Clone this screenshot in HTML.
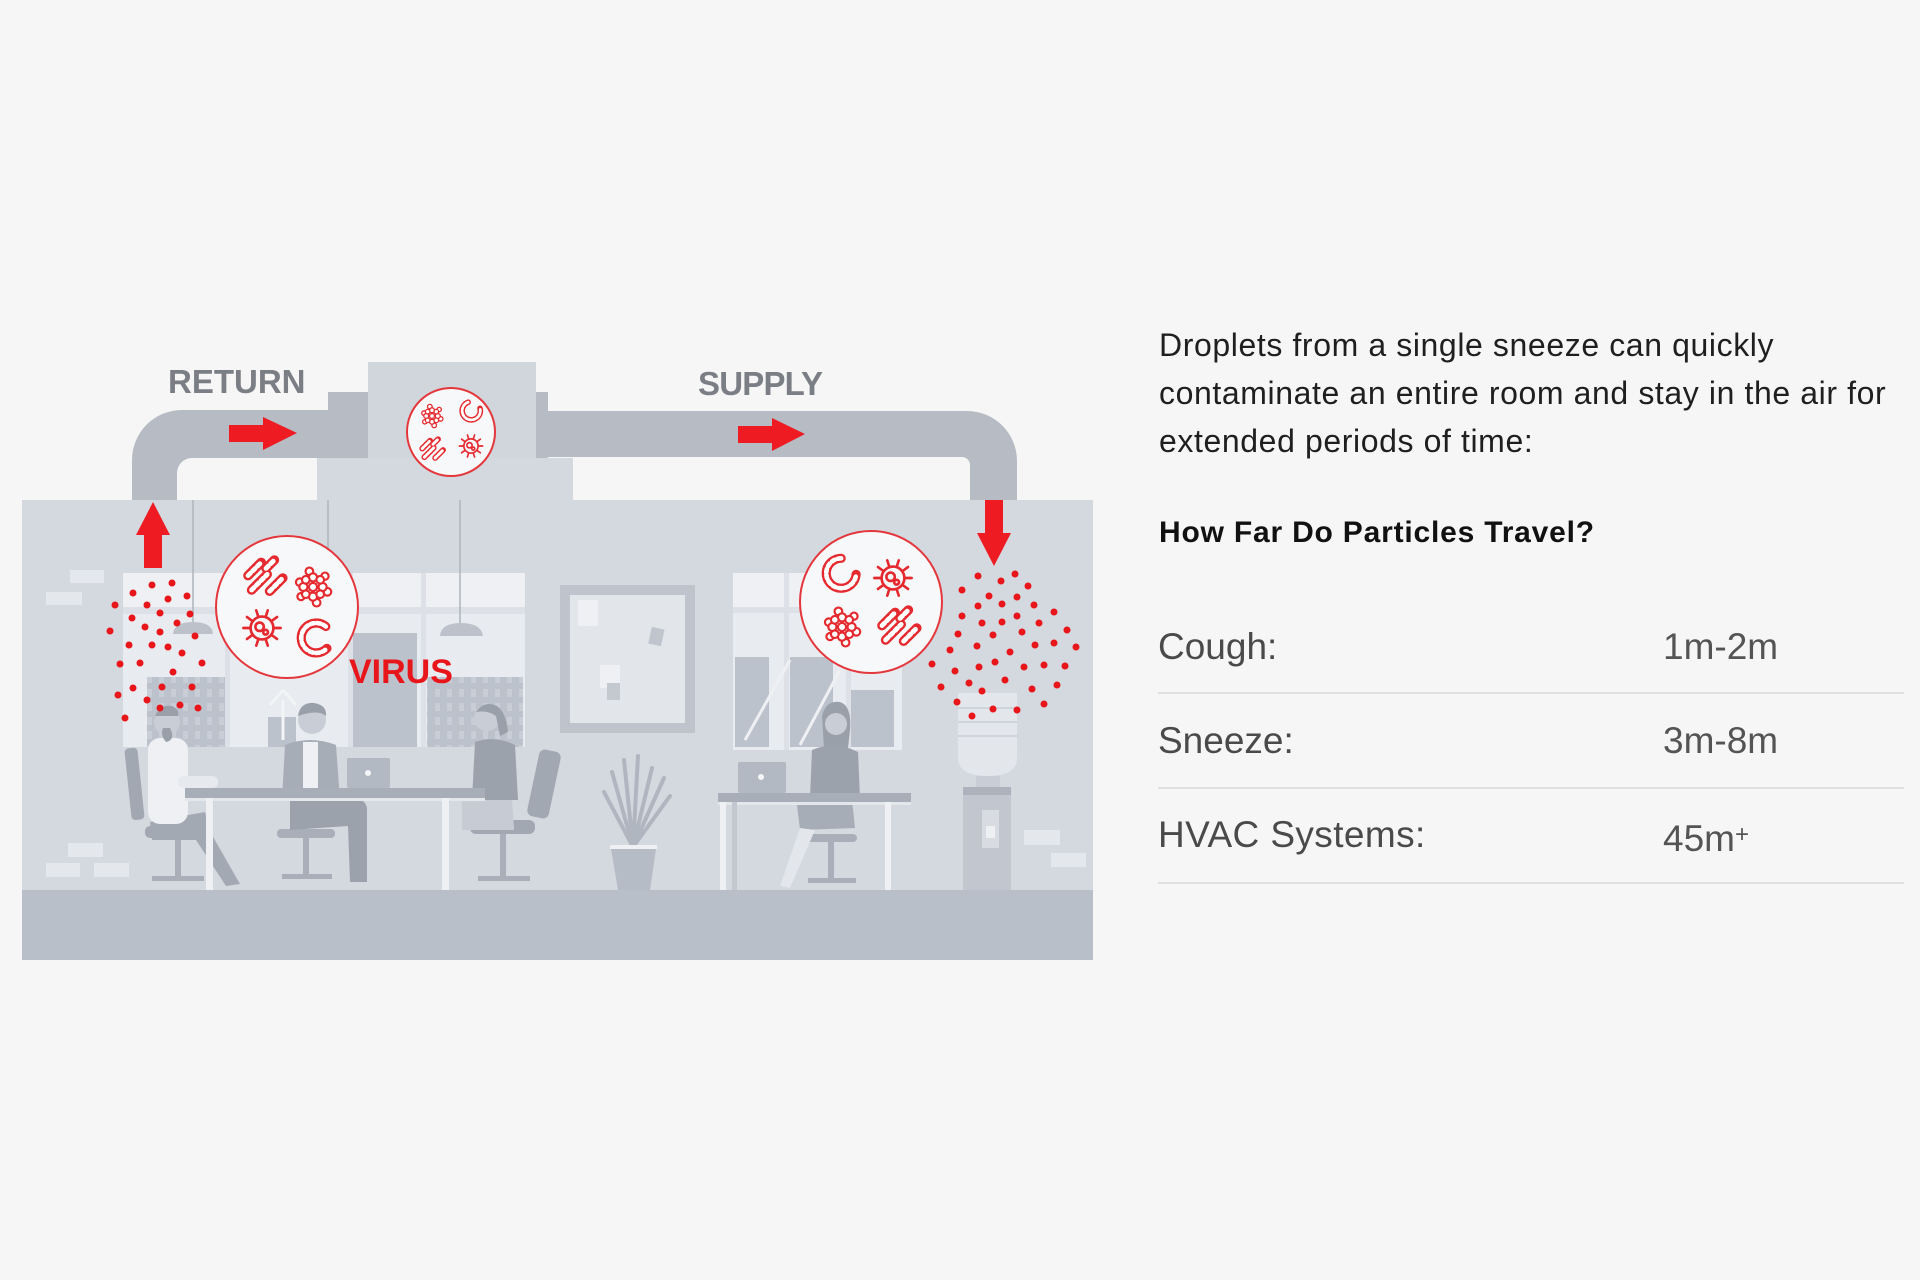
<!DOCTYPE html>
<html>
<head>
<meta charset="utf-8">
<style>
  html,body{margin:0;padding:0;}
  body{width:1920px;height:1280px;background:#f5f6f5;position:relative;overflow:hidden;font-family:"Liberation Sans",sans-serif;}
  .t{position:absolute;white-space:nowrap;}
  .row{font-size:37px;line-height:44px;color:#4a4a4a;}
  .val{font-size:37px;line-height:44px;color:#545454;}
  .ln{position:absolute;left:1158px;width:746px;height:2px;background:#dfe1e0;}
</style>
</head>
<body>
<svg width="1920" height="1280" viewBox="0 0 1920 1280" style="position:absolute;left:0;top:0">
  <defs>
    <g id="spk" fill="none" stroke="#e52a2f" stroke-width="2.2" stroke-linecap="round">
      <circle r="9.5"/>
      <path d="M10,0L15.5,0M8.1,5.9L12.5,9.1M3.1,9.5L4.8,14.7M-3.1,9.5L-4.8,14.7M-8.1,5.9L-12.5,9.1M-10,0L-15.5,0M-8.1,-5.9L-12.5,-9.1M-3.1,-9.5L-4.8,-14.7M3.1,-9.5L4.8,-14.7M8.1,-5.9L12.5,-9.1"/>
      <circle cx="-2" cy="-1" r="3.5"/><circle cx="3" cy="3.5" r="2"/>
    </g>
    <g id="flw" fill="#fff" stroke="#e52a2f" stroke-width="1.8">
      <circle cx="12" cy="4" r="3.2"/><circle cx="-11" cy="-4" r="3.2"/><circle cx="3" cy="13" r="3.2"/><circle cx="-3" cy="-13" r="3.2"/>
      <circle cx="-10" cy="8" r="3"/><circle cx="10" cy="-9" r="3"/>
      <circle cx="8" cy="0" r="3.4"/><circle cx="-8" cy="0" r="3.4"/><circle cx="0" cy="8" r="3.4"/><circle cx="0" cy="-8" r="3.4"/>
      <circle cx="6" cy="6" r="3.2"/><circle cx="-6" cy="-6" r="3.2"/><circle cx="6" cy="-6" r="3.2"/><circle cx="-6" cy="6" r="3.2"/>
      <circle cx="0" cy="0" r="3.4"/>
    </g>
    <g id="rods" fill="none" stroke-linecap="round">
      <path d="M-15,-2 L-4,-13 M-12,10 L1,-3 M3,11 L14,0 M0,-8 L7,-15" stroke="#e52a2f" stroke-width="8"/>
      <path d="M-15,-2 L-4,-13 M-12,10 L1,-3 M3,11 L14,0 M0,-8 L7,-15" stroke="#fff" stroke-width="4" stroke-dasharray="3 2.5"/>
    </g>
    <g id="chn" fill="none" stroke-linecap="round">
      <path d="M12,-10 A13,13 0 1 0 13,9" stroke="#e52a2f" stroke-width="8"/>
      <path d="M12,-10 A13,13 0 1 0 13,9" stroke="#fff" stroke-width="4" stroke-dasharray="3 2.5"/>
    </g>
    <pattern id="bw" width="12" height="14" patternUnits="userSpaceOnUse">
      <rect width="12" height="14" fill="#bcc2cb"/>
      <rect x="3" y="3" width="5" height="8" fill="#c9ced6"/>
    </pattern>
  </defs>

  <!-- ducts -->
  <path d="M132,500 L132,460 A50,50 0 0 1 182,410 L328,410 L328,458 L192,458 A15,15 0 0 0 177,473 L177,500 Z" fill="#b6bbc4"/>
  <rect x="328" y="392" width="40" height="66" fill="#b6bbc4"/>
  <rect x="368" y="362" width="168" height="96" fill="#d1d5dc"/>
  <rect x="317" y="458" width="256" height="42" fill="#d4d8df"/>
  <rect x="536" y="392" width="12" height="66" fill="#b6bbc4"/>
  <path d="M548,411 L967,411 A50,50 0 0 1 1017,461 L1017,500 L970,500 L970,465 A8,8 0 0 0 962,457 L548,457 Z" fill="#b6bbc4"/>

  <!-- labels -->
  <text x="168" y="393" font-family="Liberation Sans, sans-serif" font-weight="bold" font-size="33" fill="#7b7e84">RETURN</text>
  <text x="698" y="395" font-family="Liberation Sans, sans-serif" font-weight="bold" font-size="33" letter-spacing="-0.8" fill="#7b7e84">SUPPLY</text>

  <!-- arrows in ducts -->
  <rect x="229" y="425" width="35" height="17" fill="#ee1c22"/>
  <polygon points="263,417 297,433 263,450" fill="#ee1c22"/>
  <rect x="738" y="426" width="35" height="17" fill="#ee1c22"/>
  <polygon points="772,418 805,434 772,451" fill="#ee1c22"/>

  <!-- room -->
  <rect x="22" y="500" width="1071" height="460" fill="#d4d8df"/>
  <rect x="22" y="890" width="1071" height="70" fill="#b9bfc8"/>

  <!-- bricks -->
  <g fill="#e4e7ec">
    <rect x="70" y="570" width="34" height="13"/>
    <rect x="46" y="592" width="36" height="13"/>
    <rect x="68" y="843" width="35" height="14"/>
    <rect x="46" y="863" width="34" height="14"/>
    <rect x="94" y="863" width="35" height="14"/>
    <rect x="1024" y="830" width="36" height="15"/>
    <rect x="1051" y="853" width="35" height="14"/>
  </g>

  <!-- left window -->
  <rect x="123" y="573" width="402" height="174" fill="#e8ebef"/>
  <rect x="123" y="573" width="402" height="34" fill="#eef0f3"/>
  <rect x="147" y="677" width="80" height="70" fill="url(#bw)"/>
  <rect x="268" y="717" width="28" height="30" fill="#bcc2cb"/>
  <rect x="351" y="633" width="66" height="114" fill="#bcc2cb"/>
  <rect x="427" y="677" width="96" height="70" fill="url(#bw)"/>
  <rect x="123" y="607" width="402" height="7" fill="#dde0e6"/>
  <rect x="225" y="573" width="5" height="174" fill="#dde0e6"/>
  <rect x="348" y="573" width="5" height="174" fill="#dde0e6"/>
  <rect x="421" y="573" width="5" height="174" fill="#dde0e6"/>
  <path d="M283,700 L283,740 M283,690 L270,705 M283,690 L296,705" stroke="#f2f4f6" stroke-width="3" fill="none"/>

  <!-- right window -->
  <rect x="733" y="573" width="169" height="177" fill="#e8ebef"/>
  <rect x="733" y="573" width="169" height="34" fill="#eef0f3"/>
  <rect x="735" y="657" width="34" height="90" fill="#bcc2cb"/>
  <rect x="790" y="657" width="43" height="90" fill="#bcc2cb"/>
  <rect x="851" y="690" width="43" height="57" fill="#bcc2cb"/>
  <rect x="733" y="607" width="169" height="6" fill="#dde0e6"/>
  <rect x="784" y="573" width="5" height="177" fill="#dde0e6"/>
  <rect x="846" y="573" width="5" height="177" fill="#dde0e6"/>
  <path d="M745,740 L790,660 M800,745 L840,670" stroke="#eef0f3" stroke-width="3"/>

  <!-- framed picture -->
  <rect x="560" y="585" width="135" height="148" fill="#bfc4cc"/>
  <rect x="570" y="595" width="115" height="128" fill="#e2e5ea"/>
  <rect x="578" y="600" width="20" height="26" fill="#eef0f3"/>
  <rect x="650" y="628" width="13" height="17" fill="#c0c5cd" transform="rotate(12 656 636)"/>
  <rect x="600" y="665" width="20" height="23" fill="#eef0f3"/>
  <rect x="607" y="683" width="13" height="17" fill="#c4c9d0"/>

  <!-- pendant lamps -->
  <g stroke="#aeb4bd" stroke-width="1.5">
    <line x1="193" y1="500" x2="193" y2="624"/>
    <line x1="328" y1="500" x2="328" y2="560"/>
    <line x1="460" y1="500" x2="460" y2="624"/>
  </g>
  <path d="M173,634 Q174,622 193,622 Q212,622 213,634 Z" fill="#bcc1ca"/>
  <path d="M440,636 Q441,623 461,623 Q481,623 483,636 Z" fill="#bcc1ca"/>

  <!-- left chair + man -->
  <rect x="128" y="748" width="13" height="72" rx="4" fill="#a2a8b2" transform="rotate(-6 134 784)"/>
  <rect x="145" y="826" width="60" height="12" rx="5" fill="#a2a8b2"/>
  <rect x="175" y="838" width="6" height="40" fill="#a9afb8"/>
  <rect x="152" y="876" width="52" height="5" fill="#a9afb8"/>
  <path d="M150,822 L205,812 L212,835 L240,884 L226,886 L196,840 L152,840 Z" fill="#a3a9b3"/>
  <rect x="148" y="738" width="40" height="86" rx="12" fill="#eef0f4"/>
  <rect x="178" y="776" width="40" height="12" rx="5" fill="#e6e9ee"/>
  <circle cx="167" cy="722" r="13" fill="#c9ced6"/>
  <path d="M155,716 Q160,704 172,706 Q180,710 178,716 Z" fill="#9aa0aa"/>
  <path d="M170,728 Q176,740 166,742 Q160,735 163,728 Z" fill="#9aa0aa"/>

  <!-- middle man -->
  <rect x="277" y="829" width="58" height="9" rx="4" fill="#a9afb8"/>
  <rect x="303" y="838" width="6" height="38" fill="#a9afb8"/>
  <rect x="282" y="874" width="50" height="5" fill="#a9afb8"/>
  <path d="M285,745 Q310,735 336,745 L340,800 L282,800 Z" fill="#a7adb7"/>
  <rect x="303" y="742" width="15" height="50" fill="#eef0f3"/>
  <path d="M290,798 L355,798 Q368,800 367,812 L367,882 L350,882 L348,826 L290,830 Z" fill="#9ca2ac"/>
  <circle cx="312" cy="720" r="14" fill="#c9ced6"/>
  <path d="M298,716 Q300,702 314,703 Q327,705 326,716 Q318,709 298,716 Z" fill="#9aa0aa"/>

  <!-- right seated woman at left table -->
  <rect x="533" y="750" width="22" height="68" rx="6" fill="#a2a8b2" transform="rotate(12 544 784)"/>
  <rect x="470" y="820" width="65" height="14" rx="6" fill="#a2a8b2"/>
  <rect x="500" y="834" width="6" height="44" fill="#a9afb8"/>
  <rect x="478" y="876" width="52" height="5" fill="#a9afb8"/>
  <path d="M462,798 L512,798 L514,830 L462,830 Z" fill="#c7ccd4"/>
  <path d="M475,742 Q495,735 515,745 L518,800 L472,800 Z" fill="#9ca2ac"/>
  <circle cx="487" cy="718" r="13" fill="#c9ced6"/>
  <path d="M476,712 Q484,700 497,706 Q506,712 508,732 L500,736 L496,716 Q488,710 476,712 Z" fill="#9aa0aa"/>

  <!-- left table -->
  <rect x="347" y="758" width="43" height="30" rx="2" fill="#b3b9c2"/>
  <circle cx="368" cy="773" r="3" fill="#f4f5f7"/>
  <rect x="185" y="788" width="300" height="10" fill="#a8aeb8"/>
  <rect x="185" y="798" width="300" height="3" fill="#e3e6eb"/>
  <rect x="206" y="798" width="7" height="92" fill="#eef0f3"/>
  <rect x="442" y="798" width="7" height="92" fill="#eef0f3"/>

  <!-- plant -->
  <g stroke="#b0b6bf" stroke-width="4" stroke-linecap="round" fill="none">
    <path d="M633,847 L612,772"/><path d="M633,847 L624,760"/><path d="M633,847 L638,756"/>
    <path d="M633,847 L652,768"/><path d="M633,847 L664,778"/><path d="M633,847 L604,792"/>
    <path d="M633,847 L670,796"/>
  </g>
  <rect x="610" y="845" width="47" height="4" fill="#eef0f3"/>
  <polygon points="611,849 656,849 650,890 618,890" fill="#b6bcc5"/>

  <!-- right woman + desk -->
  <rect x="805" y="834" width="52" height="8" rx="4" fill="#a9afb8"/>
  <rect x="828" y="842" width="6" height="38" fill="#a9afb8"/>
  <rect x="808" y="878" width="48" height="5" fill="#a9afb8"/>
  <path d="M797,805 L852,800 L855,828 L800,830 Z" fill="#a7adb7"/>
  <path d="M800,828 L780,886 L790,888 L815,830 Z" fill="#e3e6eb"/>
  <path d="M812,750 Q835,740 858,752 L860,798 L810,798 Z" fill="#9ca2ac"/>
  <path d="M822,716 Q826,700 840,702 Q852,706 850,730 L848,748 L824,748 Z" fill="#9aa0aa"/>
  <circle cx="836" cy="724" r="11" fill="#c9ced6"/>
  <rect x="738" y="762" width="48" height="31" rx="2" fill="#b3b9c2"/>
  <circle cx="761" cy="777" r="3" fill="#f4f5f7"/>
  <rect x="718" y="793" width="193" height="9" fill="#a8aeb8"/>
  <rect x="718" y="802" width="193" height="3" fill="#e3e6eb"/>
  <rect x="720" y="802" width="6" height="88" fill="#eef0f3"/>
  <rect x="885" y="802" width="6" height="88" fill="#eef0f3"/>
  <rect x="732" y="802" width="5" height="88" fill="#c3c8d0"/>

  <!-- water cooler -->
  <path d="M958,693 L1017,693 L1017,758 Q1017,776 988,776 Q958,776 958,758 Z" fill="#e3e6eb"/>
  <g stroke="#cfd3da" stroke-width="2"><line x1="958" y1="708" x2="1017" y2="708"/><line x1="958" y1="722" x2="1017" y2="722"/><line x1="958" y1="736" x2="1017" y2="736"/></g>
  <rect x="976" y="776" width="24" height="11" fill="#c9ced6"/>
  <rect x="963" y="787" width="48" height="103" fill="#c2c7cf"/>
  <rect x="963" y="787" width="48" height="8" fill="#adb3bc"/>
  <rect x="982" y="810" width="17" height="38" fill="#d8dce2"/>
  <rect x="986" y="826" width="9" height="12" fill="#eef0f3"/>

  <!-- virus circles -->
  <circle cx="287" cy="607" r="71" fill="#f7f8fa" stroke="#e4373c" stroke-width="2"/>
  <use href="#rods" transform="translate(266,578) scale(1.2)"/>
  <use href="#flw" transform="translate(313,587) scale(1.2)"/>
  <use href="#spk" transform="translate(262,628) scale(1.2)"/>
  <use href="#chn" transform="translate(312,638) scale(1.15)"/>

  <circle cx="871" cy="602" r="71" fill="#f7f8fa" stroke="#e4373c" stroke-width="2"/>
  <use href="#chn" transform="translate(838,576) scale(1.15) rotate(-40)"/>
  <use href="#spk" transform="translate(893,578) scale(1.2)"/>
  <use href="#flw" transform="translate(842,627) scale(1.2)"/>
  <use href="#rods" transform="translate(900,628) scale(1.2)"/>

  <circle cx="451" cy="432" r="44" fill="#f7f8fa" stroke="#e4373c" stroke-width="2"/>
  <use href="#flw" transform="translate(432,416) scale(0.72)"/>
  <use href="#chn" transform="translate(470,413) scale(0.7) rotate(-60)"/>
  <use href="#rods" transform="translate(433,450) scale(0.72)"/>
  <use href="#spk" transform="translate(471,446) scale(0.75)"/>

  <text x="349" y="683" font-family="Liberation Sans, sans-serif" font-weight="bold" font-size="34" fill="#e8151b">VIRUS</text>

  <!-- vertical arrows -->
  <rect x="144" y="534" width="18" height="34" fill="#ee1c22"/>
  <polygon points="136,535 153,502 170,535" fill="#ee1c22"/>
  <rect x="985" y="500" width="18" height="34" fill="#ee1c22"/>
  <polygon points="977,533 1011,533 994,566" fill="#ee1c22"/>

  <!-- droplets -->
  <g fill="#e8151b">
    <circle cx="152" cy="585" r="3.5"/><circle cx="172" cy="583" r="3.5"/><circle cx="133" cy="593" r="3.5"/><circle cx="187" cy="596" r="3.5"/>
    <circle cx="115" cy="605" r="3.5"/><circle cx="147" cy="605" r="3.5"/><circle cx="168" cy="599" r="3.5"/><circle cx="132" cy="618" r="3.5"/>
    <circle cx="160" cy="613" r="3.5"/><circle cx="190" cy="614" r="3.5"/><circle cx="110" cy="631" r="3.5"/><circle cx="145" cy="627" r="3.5"/>
    <circle cx="160" cy="632" r="3.5"/><circle cx="177" cy="623" r="3.5"/><circle cx="195" cy="636" r="3.5"/><circle cx="129" cy="645" r="3.5"/>
    <circle cx="152" cy="645" r="3.5"/><circle cx="168" cy="647" r="3.5"/><circle cx="182" cy="653" r="3.5"/><circle cx="202" cy="663" r="3.5"/>
    <circle cx="120" cy="664" r="3.5"/><circle cx="140" cy="663" r="3.5"/><circle cx="173" cy="672" r="3.5"/><circle cx="133" cy="688" r="3.5"/>
    <circle cx="162" cy="687" r="3.5"/><circle cx="192" cy="687" r="3.5"/><circle cx="118" cy="695" r="3.5"/><circle cx="147" cy="700" r="3.5"/>
    <circle cx="160" cy="708" r="3.5"/><circle cx="180" cy="705" r="3.5"/><circle cx="198" cy="708" r="3.5"/><circle cx="125" cy="718" r="3.5"/>

    <circle cx="978" cy="576" r="3.5"/><circle cx="1001" cy="581" r="3.5"/><circle cx="1015" cy="574" r="3.5"/><circle cx="962" cy="590" r="3.5"/>
    <circle cx="989" cy="596" r="3.5"/><circle cx="1028" cy="586" r="3.5"/><circle cx="1017" cy="597" r="3.5"/><circle cx="978" cy="606" r="3.5"/>
    <circle cx="1002" cy="604" r="3.5"/><circle cx="1034" cy="605" r="3.5"/><circle cx="962" cy="616" r="3.5"/><circle cx="982" cy="623" r="3.5"/>
    <circle cx="1002" cy="622" r="3.5"/><circle cx="1017" cy="616" r="3.5"/><circle cx="1039" cy="623" r="3.5"/><circle cx="1054" cy="612" r="3.5"/>
    <circle cx="958" cy="634" r="3.5"/><circle cx="977" cy="646" r="3.5"/><circle cx="993" cy="635" r="3.5"/><circle cx="1022" cy="632" r="3.5"/>
    <circle cx="1067" cy="630" r="3.5"/><circle cx="950" cy="650" r="3.5"/><circle cx="1010" cy="652" r="3.5"/><circle cx="1035" cy="645" r="3.5"/>
    <circle cx="1054" cy="643" r="3.5"/><circle cx="1076" cy="647" r="3.5"/><circle cx="932" cy="664" r="3.5"/><circle cx="955" cy="671" r="3.5"/>
    <circle cx="979" cy="667" r="3.5"/><circle cx="995" cy="662" r="3.5"/><circle cx="1024" cy="667" r="3.5"/><circle cx="1044" cy="665" r="3.5"/>
    <circle cx="1065" cy="666" r="3.5"/><circle cx="941" cy="687" r="3.5"/><circle cx="969" cy="683" r="3.5"/><circle cx="982" cy="691" r="3.5"/>
    <circle cx="1005" cy="680" r="3.5"/><circle cx="1032" cy="689" r="3.5"/><circle cx="1057" cy="685" r="3.5"/><circle cx="957" cy="702" r="3.5"/>
    <circle cx="993" cy="709" r="3.5"/><circle cx="1017" cy="710" r="3.5"/><circle cx="1044" cy="704" r="3.5"/><circle cx="972" cy="716" r="3.5"/>
  </g>
</svg>

<div class="t" style="left:1159px;top:321px;font-size:32px;line-height:48px;letter-spacing:0.6px;color:#1f1f1f;">Droplets from a single sneeze can quickly<br>contaminate an entire room and stay in the air for<br>extended periods of time:</div>

<div class="t" style="left:1159px;top:515px;font-size:30px;line-height:36px;font-weight:bold;letter-spacing:0.8px;color:#111;">How Far Do Particles Travel?</div>

<div class="t row" style="left:1158px;top:625px;">Cough:</div>
<div class="t val" style="left:1663px;top:625px;">1m-2m</div>
<div class="ln" style="top:692px;"></div>

<div class="t row" style="left:1158px;top:719px;">Sneeze:</div>
<div class="t val" style="left:1663px;top:719px;">3m-8m</div>
<div class="ln" style="top:787px;"></div>

<div class="t row" style="left:1158px;top:813px;letter-spacing:0.4px;">HVAC Systems:</div>
<div class="t val" style="left:1663px;top:813px;">45m<span style="font-size:24px;vertical-align:9px;">+</span></div>
<div class="ln" style="top:882px;"></div>

</body>
</html>
